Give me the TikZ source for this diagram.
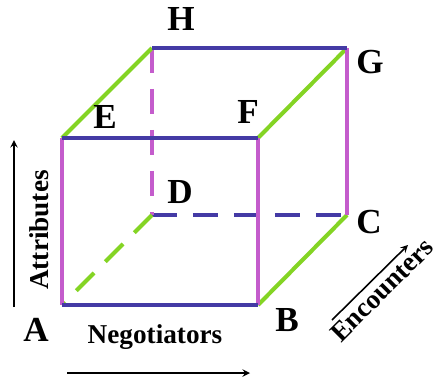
\documentclass[tikz,border=0pt]{standalone}
\usepackage{fontspec}
\setmainfont{Liberation Serif}
\definecolor{edgeblue}{RGB}{68,58,165}
\definecolor{edgeviolet}{RGB}{196,92,204}
\definecolor{edgegreen}{RGB}{132,212,36}
\tikzset{
	vertex/.style={font=\fontsize{20}{24}\selectfont\bfseries},
	axis/.style={font=\fontsize{15.5}{19}\selectfont\bfseries, inner sep=1pt},
	edge/.style={line width=2.3pt},
	hidden/.style={dash pattern=on 0.5cm off 0.32cm},
	axisarrow/.style={->, line width=0.9pt},
}
\begin{document}
\begin{tikzpicture}[x=0.02cm, y=0.02cm, line join=round, >=stealth]
				\useasboundingbox (0,0) rectangle (437,383);
				% Tọa độ các đỉnh
				\coordinate (A) at (62,78);
				\coordinate (B) at (258,78);
				\coordinate (C) at (347,168);
				\coordinate (D) at (152,168);
				\coordinate (E) at (62,245);
				\coordinate (F) at (258,245);
				\coordinate (G) at (347,335);
				\coordinate (H) at (152,335);
				% hidden edges
				\draw[edge, hidden, edgeblue] (D) -- (C);
				\draw[edge, hidden, edgeviolet] (H) -- (D);
				\draw[edge, hidden, edgegreen] (D) -- (A);
				% visible edges
				\draw[edge, edgegreen] (E) -- (H);
				\draw[edge, edgegreen] (F) -- (G);
				\draw[edge, edgegreen] (B) -- (C);
				\draw[edge, edgeviolet] (A) -- (E);
				\draw[edge, edgeviolet] (B) -- (F);
				\draw[edge, edgeviolet] (C) -- (G);
				\draw[edge, edgeblue] (A) -- (B);
				\draw[edge, edgeblue] (E) -- (F);
				\draw[edge, edgeblue] (H) -- (G);
				\node[vertex] (lA) at (36,53) {A};
				\node[vertex] (lB) at (287,63) {B};
				\node[vertex] (lC) at (369,161) {C};
				\node[vertex] (lD) at (180,191) {D};
				\node[vertex] (lE) at (105,266) {E};
				\node[vertex] (lF) at (248,271) {F};
				\node[vertex] (lG) at (370,321) {G};
				\node[vertex] (lH) at (181,364) {H};
				% axes
				\coordinate (at0) at (14,76);
				\coordinate (at1) at (14,243);
				\coordinate (ng0) at (67,10);
				\coordinate (ng1) at (250,10);
				\coordinate (en0) at (332,63);
				\coordinate (en1) at (408,138);
				\draw[axisarrow] (at0) -- (at1);
				\draw[axisarrow] (ng0) -- (ng1);
				\draw[axisarrow] (en0) -- (en1);
				\node[axis, rotate=90] (attr) at (39,153) {Attributes};
				\node[axis] (nego) at (155,46) {Negotiators};
				\node[axis, rotate=45] (enc) at (382,93) {Encounters};
			\end{tikzpicture}
\end{document}
